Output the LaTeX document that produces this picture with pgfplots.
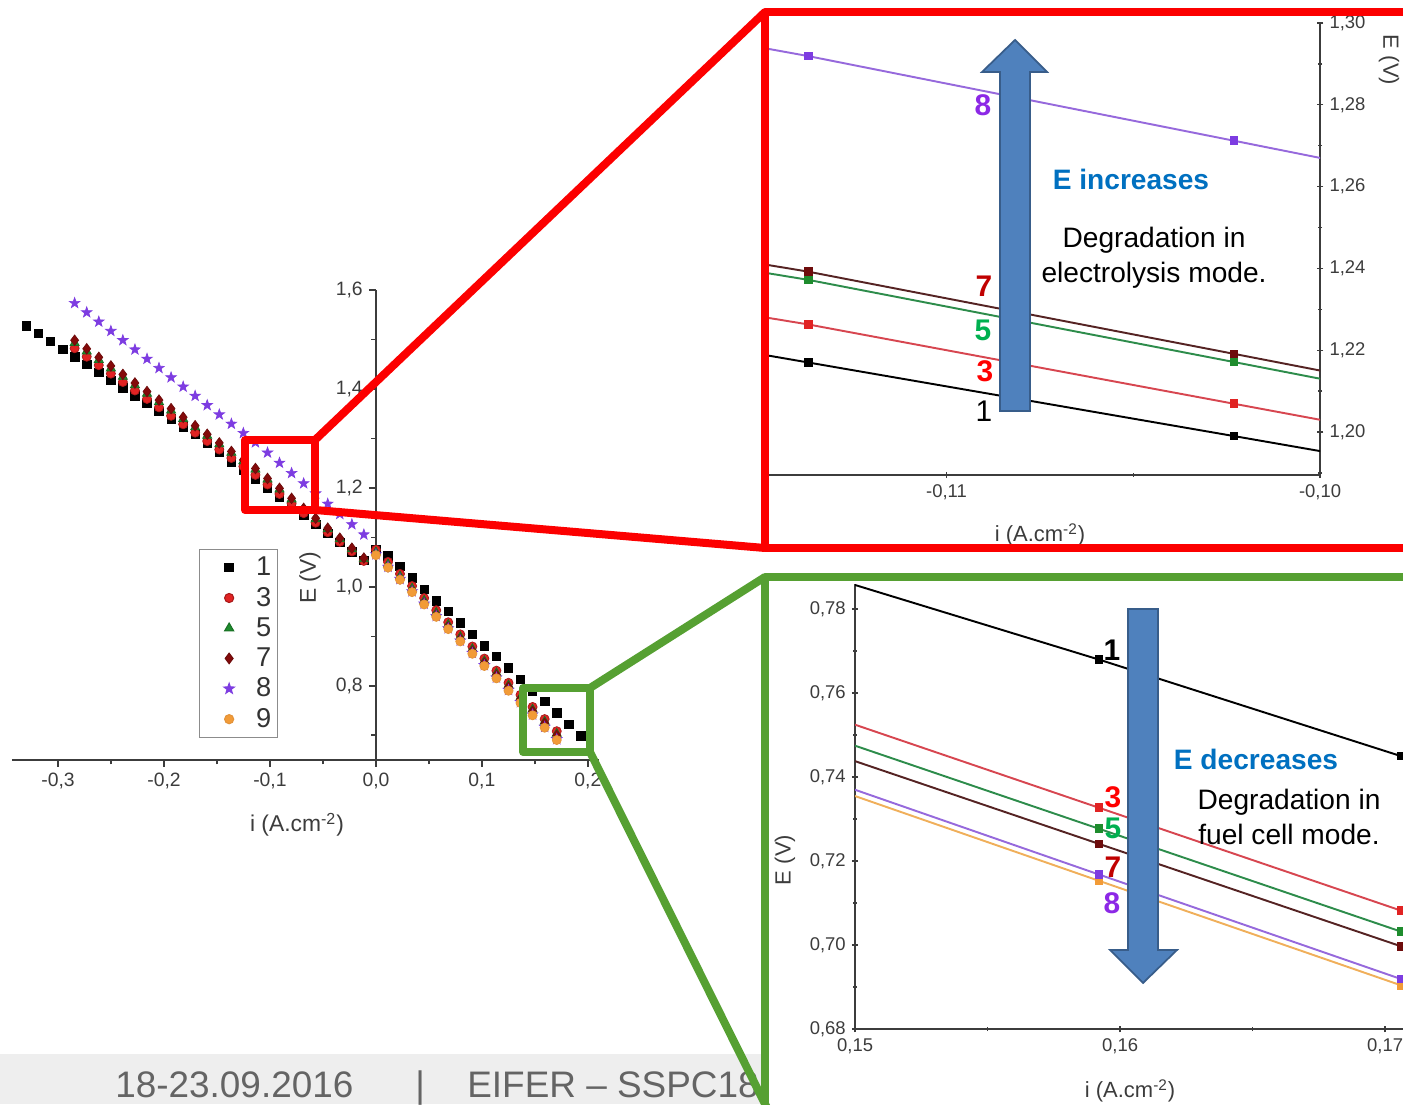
\documentclass[border=0pt]{standalone}
\usepackage{fontspec}
\setmainfont{Liberation Sans}
\usepackage{pgfplots}
\usepackage{pgfplotstable}
\pgfplotsset{compat=1.18}

% series colours (markers, inset lines)
\definecolor{cThree}{RGB}{225,35,35}
\definecolor{cFive}{RGB}{30,140,45}
\definecolor{cSeven}{RGB}{110,12,12}
\definecolor{cEight}{RGB}{125,60,225}
\definecolor{cNine}{RGB}{242,155,55}
\definecolor{lThree}{RGB}{215,70,80}
\definecolor{lFive}{RGB}{45,140,75}
\definecolor{lSeven}{RGB}{85,35,35}
\definecolor{lEight}{RGB}{150,105,220}
\definecolor{lNine}{RGB}{240,175,90}
% annotation colours
\definecolor{frameRed}{RGB}{252,0,0}
\definecolor{frameGreen}{RGB}{86,160,50}
\definecolor{arrowFill}{RGB}{79,129,189}
\definecolor{arrowEdge}{RGB}{56,93,138}
\definecolor{noteBlue}{RGB}{0,112,192}
\definecolor{labRed}{RGB}{255,0,0}
\definecolor{labDark}{RGB}{192,0,0}
\definecolor{labGreen}{RGB}{0,176,80}
\definecolor{labPurple}{RGB}{140,40,230}
\definecolor{footGray}{RGB}{100,100,100}
\definecolor{footBand}{RGB}{238,238,238}
\definecolor{axisGray}{RGB}{60,60,60}

% filled five-pointed star
\pgfdeclareplotmark{fstar}{%
  \pgfpathmoveto{\pgfpointpolar{90}{1.3\pgfplotmarksize}}%
  \pgfpathlineto{\pgfpointpolar{126}{0.52\pgfplotmarksize}}%
  \pgfpathlineto{\pgfpointpolar{162}{1.3\pgfplotmarksize}}%
  \pgfpathlineto{\pgfpointpolar{198}{0.52\pgfplotmarksize}}%
  \pgfpathlineto{\pgfpointpolar{234}{1.3\pgfplotmarksize}}%
  \pgfpathlineto{\pgfpointpolar{270}{0.52\pgfplotmarksize}}%
  \pgfpathlineto{\pgfpointpolar{306}{1.3\pgfplotmarksize}}%
  \pgfpathlineto{\pgfpointpolar{342}{0.52\pgfplotmarksize}}%
  \pgfpathlineto{\pgfpointpolar{18}{1.3\pgfplotmarksize}}%
  \pgfpathlineto{\pgfpointpolar{54}{0.52\pgfplotmarksize}}%
  \pgfpathclose
  \pgfusepathqfillstroke}

% polarisation curves E(i), cycles 1,3,5,7,8,9
\pgfplotstableread{
x E
-0.3297 1.5276
-0.3184 1.5120
-0.3070 1.4962
-0.2956 1.4805
-0.2843 1.4649
-0.2729 1.4492
-0.2615 1.4334
-0.2501 1.4177
-0.2388 1.4021
-0.2274 1.3864
-0.2160 1.3707
-0.2047 1.3550
-0.1933 1.3393
-0.1819 1.3236
-0.1706 1.3080
-0.1592 1.2900
-0.1478 1.2720
-0.1364 1.2530
-0.1251 1.2350
-0.1137 1.2170
-0.1023 1.1990
-0.0910 1.1810
-0.0796 1.1620
-0.0682 1.1440
-0.0569 1.1260
-0.0455 1.1080
-0.0341 1.0900
-0.0227 1.0710
-0.0114 1.0530
0.0000 1.0750
0.0114 1.0630
0.0227 1.0410
0.0341 1.0180
0.0455 0.9950
0.0569 0.9720
0.0682 0.9500
0.0796 0.9270
0.0910 0.9040
0.1023 0.8810
0.1137 0.8590
0.1251 0.8360
0.1364 0.8130
0.1478 0.7900
0.1592 0.7680
0.1706 0.7450
0.1819 0.7220
0.1933 0.6990
}\tOne

\pgfplotstableread{
x E
-0.2843 1.4822
-0.2729 1.4651
-0.2615 1.4480
-0.2501 1.4309
-0.2388 1.4140
-0.2274 1.3969
-0.2160 1.3798
-0.2047 1.3628
-0.1933 1.3457
-0.1819 1.3286
-0.1706 1.3117
-0.1592 1.2946
-0.1478 1.2775
-0.1364 1.2604
-0.1251 1.2434
-0.1137 1.2263
-0.1023 1.2069
-0.0910 1.1877
-0.0796 1.1683
-0.0682 1.1489
-0.0569 1.1297
-0.0455 1.1104
-0.0341 1.0910
-0.0227 1.0716
-0.0114 1.0524
0.0000 1.0750
0.0114 1.0505
0.0227 1.0262
0.0341 1.0017
0.0455 0.9772
0.0569 0.9527
0.0682 0.9284
0.0796 0.9039
0.0910 0.8794
0.1023 0.8550
0.1137 0.8306
0.1251 0.8060
0.1364 0.7817
0.1478 0.7572
0.1592 0.7327
0.1706 0.7082
}\tThree

\pgfplotstableread{
x E
-0.2843 1.4931
-0.2729 1.4760
-0.2615 1.4589
-0.2501 1.4418
-0.2388 1.4249
-0.2274 1.4078
-0.2160 1.3907
-0.2047 1.3737
-0.1933 1.3566
-0.1819 1.3395
-0.1706 1.3226
-0.1592 1.3055
-0.1478 1.2884
-0.1364 1.2713
-0.1251 1.2543
-0.1137 1.2372
-0.1023 1.2171
-0.0910 1.1971
-0.0796 1.1769
-0.0682 1.1567
-0.0569 1.1367
-0.0455 1.1165
-0.0341 1.0964
-0.0227 1.0762
-0.0114 1.0562
0.0000 1.0700
0.0114 1.0455
0.0227 1.0212
0.0341 0.9967
0.0455 0.9722
0.0569 0.9477
0.0682 0.9234
0.0796 0.8989
0.0910 0.8744
0.1023 0.8500
0.1137 0.8256
0.1251 0.8010
0.1364 0.7767
0.1478 0.7522
0.1592 0.7277
0.1706 0.7032
}\tFive

\pgfplotstableread{
x E
-0.2843 1.4985
-0.2729 1.4812
-0.2615 1.4639
-0.2501 1.4465
-0.2388 1.4294
-0.2274 1.4120
-0.2160 1.3947
-0.2047 1.3775
-0.1933 1.3602
-0.1819 1.3429
-0.1706 1.3257
-0.1592 1.3084
-0.1478 1.2910
-0.1364 1.2737
-0.1251 1.2565
-0.1137 1.2392
-0.1023 1.2191
-0.0910 1.1991
-0.0796 1.1789
-0.0682 1.1587
-0.0569 1.1387
-0.0455 1.1185
-0.0341 1.0984
-0.0227 1.0782
-0.0114 1.0582
0.0000 1.0648
0.0114 1.0404
0.0227 1.0162
0.0341 0.9918
0.0455 0.9674
0.0569 0.9430
0.0682 0.9189
0.0796 0.8945
0.0910 0.8701
0.1023 0.8459
0.1137 0.8215
0.1251 0.7971
0.1364 0.7729
0.1478 0.7485
0.1592 0.7241
0.1706 0.6997
}\tSeven

\pgfplotstableread{
x E
-0.2843 1.5735
-0.2729 1.5547
-0.2615 1.5359
-0.2501 1.5171
-0.2388 1.4984
-0.2274 1.4796
-0.2160 1.4608
-0.2047 1.4422
-0.1933 1.4233
-0.1819 1.4045
-0.1706 1.3859
-0.1592 1.3671
-0.1478 1.3483
-0.1364 1.3295
-0.1251 1.3108
-0.1137 1.2919
-0.1023 1.2712
-0.0910 1.2506
-0.0796 1.2299
-0.0682 1.2091
-0.0569 1.1886
-0.0455 1.1678
-0.0341 1.1471
-0.0227 1.1263
-0.0114 1.1057
0.0000 1.0655
0.0114 1.0405
0.0227 1.0158
0.0341 0.9908
0.0455 0.9659
0.0569 0.9409
0.0682 0.9161
0.0796 0.8912
0.0910 0.8662
0.1023 0.8415
0.1137 0.8165
0.1251 0.7915
0.1364 0.7668
0.1478 0.7418
0.1592 0.7168
0.1706 0.6919
}\tEight

\pgfplotstableread{
x E
0.0000 1.0640
0.0114 1.0390
0.0227 1.0143
0.0341 0.9893
0.0455 0.9644
0.0569 0.9394
0.0682 0.9146
0.0796 0.8897
0.0910 0.8647
0.1023 0.8400
0.1137 0.8150
0.1251 0.7900
0.1364 0.7653
0.1478 0.7403
0.1592 0.7153
0.1706 0.6904
}\tNine

\pgfplotsset{
  plainlines/.style={
    axis line style={-, axisGray, line width=0.9pt},
    every outer x axis line/.append style={-},
    every outer y axis line/.append style={-},
    every inner x axis line/.append style={-},
    every inner y axis line/.append style={-},
  },
  zoomaxis/.style={
    scale only axis, clip mode=individual,
    tick align=outside, major tick length=0.13cm, minor tick length=0.08cm,
    tick style={axisGray, line width=0.8pt},
    tick label style={font=\fontsize{10.5}{12}\selectfont, text=axisGray},
    /pgf/number format/assume math mode=true,
    /pgf/number format/use comma,
    /pgf/number format/fixed,
    /pgf/number format/fixed zerofill,
    /pgf/number format/precision=2,
  },
  zl/.style={line width=1.1pt, mark=square*, mark size=1.9pt},
}

\begin{document}
\begin{tikzpicture}
\useasboundingbox (0,0) rectangle (28.06,22.08);
\clip (0,0) rectangle (28.06,22.08);

% ---------- overview: all cycles ----------
\begin{axis}[
  at={(0.24cm,6.88cm)}, anchor=south west,
  scale only axis, width=11.73cm, height=9.40cm,
  xmin=-0.3434, xmax=0.21, ymin=0.65, ymax=1.6,
  axis x line=bottom, axis y line=middle,
  plainlines, axis line style={line width=1.1pt},
  clip=false,
  tick align=outside, major tick length=0.14cm, minor tick length=0.09cm,
  tick style={axisGray, line width=0.9pt},
  xtick={-0.3,-0.2,-0.1,0,0.1,0.2},
  minor xtick={-0.25,-0.15,-0.05,0.05,0.15},
  ytick={0.8,1.0,1.2,1.4,1.6},
  minor ytick={0.7,0.9,1.1,1.3,1.5},
  tick label style={font=\fontsize{11}{12}\selectfont, text=axisGray},
  /pgf/number format/assume math mode=true,
  /pgf/number format/use comma,
  /pgf/number format/fixed,
  /pgf/number format/fixed zerofill,
  /pgf/number format/precision=1,
  legend image code/.code={%
    \path (0cm,0cm) (0.98cm,0cm);
    \draw[#1] plot coordinates {(0.52cm,0cm)};},
  legend style={at={(rel axis cs:0.319,0.449)}, anchor=north west,
    draw=black!45, line width=0.6pt, fill=white,
    font=\fontsize{15.5}{15.5}\selectfont, text=black!80,
    row sep=0.035cm, inner xsep=0.06cm, inner ysep=0.08cm},
  legend cell align=left,
]
\addplot[only marks, mark=square*, mark size=2.4pt, mark options={draw=black, fill=black}] table {\tOne};
\addlegendentry{1}
\addplot[only marks, mark=*, mark size=2.6pt, mark options={draw=cThree!75!black, fill=cThree}] table {\tThree};
\addlegendentry{3}
\addplot[only marks, mark=triangle*, mark size=3pt, mark options={draw=cFive!80!black, fill=cFive}] table {\tFive};
\addlegendentry{5}
\addplot[only marks, mark=diamond*, mark size=3pt, mark options={draw=cSeven, fill=cSeven!85!red}] table {\tSeven};
\addlegendentry{7}
\addplot[only marks, mark=fstar, mark size=2.4pt, mark options={draw=cEight, fill=cEight}] table {\tEight};
\addlegendentry{8}
\addplot[only marks, mark=*, mark size=2.6pt, mark options={draw=cNine!70!brown, fill=cNine}] table {\tNine};
\addlegendentry{9}
\node[rotate=90, font=\fontsize{13}{13}\selectfont, text=axisGray] at (axis cs:-0.0623,1.018) {E (V)};
\node[font=\fontsize{13}{13}\selectfont, text=axisGray] at (axis cs:-0.0745,0.519) {i (A.cm\textsuperscript{-2})};
\end{axis}

% ---------- electrolysis side, close-up ----------
\begin{axis}[
  zoomaxis,
  at={(15.34cm,12.58cm)}, anchor=south west,
  width=11.06cm, height=9.04cm,
  xmin=-0.1148, xmax=-0.10, ymin=1.1895, ymax=1.30,
  axis x line=bottom, axis y line=right, plainlines,
  xtick={-0.11,-0.10}, minor xtick={-0.105},
  ytick={1.20,1.22,1.24,1.26,1.28,1.30},
  minor ytick={1.19,1.21,1.23,1.25,1.27,1.29},
]
\addplot[zl, lEight, mark options={draw=cEight, fill=cEight}] table {\tEight};
\addplot[zl, lSeven, mark options={draw=cSeven, fill=cSeven}] table {\tSeven};
\addplot[zl, lFive, mark options={draw=cFive, fill=cFive}] table {\tFive};
\addplot[zl, lThree, mark options={draw=cThree, fill=cThree}] table {\tThree};
\addplot[zl, black, mark options={draw=black, fill=black}] table {\tOne};
\end{axis}

% ---------- fuel cell side, close-up ----------
\begin{axis}[
  zoomaxis,
  at={(17.10cm,1.50cm)}, anchor=south west,
  width=10.97cm, height=8.90cm,
  xmin=0.15, xmax=0.1707, ymin=0.68, ymax=0.786,
  axis x line=bottom, axis y line=left, plainlines,
  xtick={0.15,0.16,0.17}, minor xtick={0.155,0.165},
  ytick={0.68,0.70,0.72,0.74,0.76,0.78},
  minor ytick={0.69,0.71,0.73,0.75,0.77},
]
\addplot[zl, lNine, mark options={draw=cNine, fill=cNine}] table {\tNine};
\addplot[zl, lEight, mark options={draw=cEight, fill=cEight}] table {\tEight};
\addplot[zl, lSeven, mark options={draw=cSeven, fill=cSeven}] table {\tSeven};
\addplot[zl, lFive, mark options={draw=cFive, fill=cFive}] table {\tFive};
\addplot[zl, lThree, mark options={draw=cThree, fill=cThree}] table {\tThree};
\addplot[zl, black, mark options={draw=black, fill=black}] table {\tOne};
\end{axis}

% axis titles of the close-ups
\node[rotate=-90, font=\fontsize{12.5}{12.5}\selectfont, text=axisGray] at (27.78,20.88) {E (V)};
\node[font=\fontsize{12.5}{12.5}\selectfont, text=axisGray] at (20.80,11.38) {i (A.cm\textsuperscript{-2})};
\node[rotate=90, font=\fontsize{12.5}{12.5}\selectfont, text=axisGray] at (15.70,4.88) {E (V)};
\node[font=\fontsize{12.5}{12.5}\selectfont, text=axisGray] at (22.60,0.26) {i (A.cm\textsuperscript{-2})};

% footer band
\fill[footBand] (0,0) rectangle (15.25,1.0);
\node[anchor=base west, inner sep=0, font=\fontsize{21}{21}\selectfont, text=footGray] at (2.30,0.13) {18-23.09.2016};
\node[anchor=base west, inner sep=0, font=\fontsize{21}{21}\selectfont, text=footGray] at (8.30,0.13) {|};
\node[anchor=base west, inner sep=0, font=\fontsize{21}{21}\selectfont, text=footGray] at (9.34,0.13) {EIFER – SSPC18};

% block arrows
\filldraw[fill=arrowFill, draw=arrowEdge, line width=1pt, line join=miter]
  (20.00,13.86) -- (20.60,13.86) -- (20.60,20.64) -- (20.94,20.64) -- (20.30,21.28)
  -- (19.64,20.64) -- (20.00,20.64) -- cycle;
\filldraw[fill=arrowFill, draw=arrowEdge, line width=1pt, line join=miter]
  (22.56,9.90) -- (23.16,9.90) -- (23.16,3.08) -- (23.54,3.08) -- (22.86,2.42)
  -- (22.20,3.08) -- (22.56,3.08) -- cycle;

% cycle labels, electrolysis close-up
\begin{scope}[every node/.style={font=\fontsize{17}{17}\bfseries}]
\node[text=labPurple] at (19.66,19.98) {8};
\node[text=labDark] at (19.68,16.36) {7};
\node[text=labGreen] at (19.66,15.48) {5};
\node[text=labRed] at (19.70,14.66) {3};
\node[text=black, font=\fontsize{17}{17}\selectfont] at (19.68,13.86) {1};
% cycle labels, fuel cell close-up
\node[text=black] at (22.24,9.08) {1};
\node[text=labRed] at (22.26,6.14) {3};
\node[text=labGreen] at (22.26,5.52) {5};
\node[text=labDark] at (22.26,4.74) {7};
\node[text=labPurple] at (22.24,4.02) {8};
\end{scope}

\node[text=noteBlue, font=\fontsize{16}{16}\bfseries] at (22.62,18.50) {E increases};
\node[align=center, font=\fontsize{16}{20}\selectfont] at (23.08,16.93) {Degradation in\\electrolysis mode.};
\node[text=noteBlue, font=\fontsize{16}{16}\bfseries] at (25.12,6.90) {E decreases};
\node[align=center, font=\fontsize{16}{20}\selectfont] at (25.78,5.74) {Degradation in\\fuel cell mode.};

% zoom frames and their leaders
\draw[frameRed, line width=0.16cm, line join=round] (4.90,13.28) rectangle (6.30,11.88);
\draw[frameRed, line width=0.16cm] (6.30,13.28) -- (15.30,21.84);
\draw[frameRed, line width=0.16cm] (6.30,11.88) -- (15.30,11.12);
\draw[frameRed, line width=0.16cm, line join=round] (15.30,21.84) rectangle (28.60,11.12);

\draw[frameGreen, line width=0.16cm, line join=round] (10.46,8.32) rectangle (11.80,7.04);
\draw[frameGreen, line width=0.16cm] (11.80,8.32) -- (15.30,10.54);
\draw[frameGreen, line width=0.16cm] (11.80,7.04) -- (15.40,-0.20);
\draw[frameGreen, line width=0.16cm, line join=round] (15.30,10.54) rectangle (28.60,-0.60);
\end{tikzpicture}
\end{document}
